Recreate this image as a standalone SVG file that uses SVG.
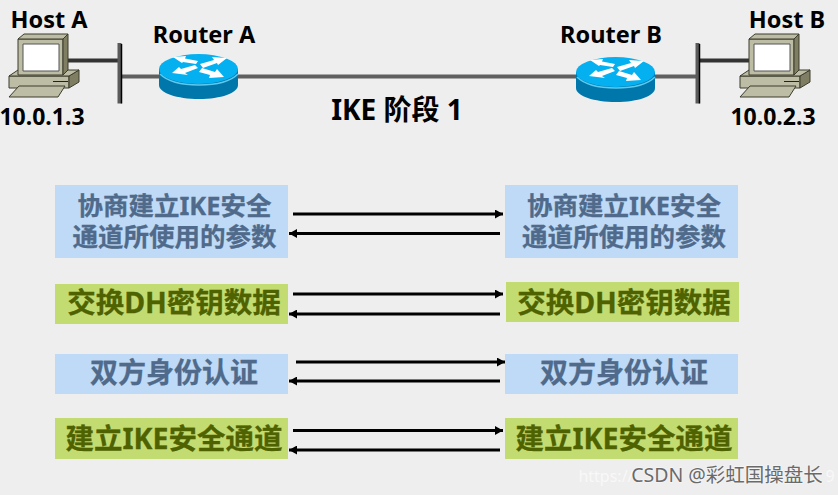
<svg xmlns="http://www.w3.org/2000/svg" width="838" height="495" viewBox="0 0 838 495">
<style>
text{font-family:"Noto Sans","Noto Sans CJK SC",sans-serif;font-weight:700;text-anchor:middle}
.lab{font-size:23.500px;fill:#000}
.ip{font-size:23px}
.b{font-size:25.500px;fill:#4f6a8a;stroke:#4f6a8a;stroke-width:.3}
.b2{font-size:28px}
.g{font-size:28.500px;fill:#4f6200;stroke:#4f6200;stroke-width:.3}
.blue{fill:#bfdaf6}
.green{fill:#c3dc72}
.ar{stroke:#000;stroke-width:3;fill:none}
.net{stroke:#5f5f5f;stroke-width:4;fill:none}
.m{fill:#bdbca4;stroke:#3c3c2c;stroke-width:1}
.d{fill:#7f7e62;stroke:#3c3c2c;stroke-width:1}
.wm{font-size:19.500px;font-weight:400;fill:#6a6a6a;stroke:#fff;stroke-width:1.500px;stroke-opacity:.5;paint-order:stroke}
.wf{font-size:16px;font-weight:400;fill:#f8f8f8}
</style>
<defs>
<marker id="ah" markerUnits="userSpaceOnUse" markerWidth="9" markerHeight="9" refX="8" refY="4.500" orient="auto"><path d="M0 0L8 4.500L0 9z" fill="#000"/></marker>
<g id="pc">
<path class="m" d="M9 76H69V88H9z"/>
<path class="d" d="M69 76L79 70V82L69 88z"/>
<path class="m" d="M9 76L18 70H79L69 76z"/>
<path d="M53 81.500H68" stroke="#222" stroke-width="1"/>
<path class="m" d="M9 97L19 86H65L58 97z"/>
<path class="m" d="M18 39H63V75H18z"/>
<path class="m" d="M18 39L24 34H68L63 39z"/>
<path class="d" d="M63 39L68 34V70L63 75z"/>
<path d="M23 44H59V71H23z" fill="#fff" stroke="#555" stroke-width="1"/>
</g>
<g id="rt">
<path d="M0 15V31C0 39 18 45 40 45S79 39 79 31V15z" fill="#0077aa"/>
<ellipse cx="39.500" cy="15" rx="39.500" ry="15" fill="#05b0f0"/>
<path d="M1 20C8 27 22 31 40 31S72 27 79 20" fill="none" stroke="#5ccaf0" stroke-width="1.500"/>
<path d="M14 3L27 2L26 4.500L39 7L37 10L24 8L23 9z M68 4L53 3L55 6L41 10L44 14L58 9L59 11z M13 19L20 13L22 15L36 11L39 14L26 19L29 21z M65 23L50 24L51 21L40 18L43 14L56 18L58 15z" fill="#fff"/>
</g>
</defs>
<rect width="838" height="495" fill="#eeeeee"/>
<g id="connectors">
<path class="net" d="M122 76.500H160M238 76.500H577M653 76.500H697"/>
<path d="M68 60.500H120M699 60.500H752" stroke="#333" stroke-width="4" fill="none"/>
<path d="M119.500 43V103.500M697.500 43V103.500" stroke="#5a5a5a" stroke-width="4" fill="none"/>
<path d="M121.500 44V103.500M699.500 44V103.500" stroke="#000" stroke-width="1.500" fill="none"/>
<path class="ar" marker-end="url(#ah)" d="M293 214H503"/>
<path class="ar" marker-end="url(#ah)" d="M500 233.500H289"/>
<path class="ar" marker-end="url(#ah)" d="M293 294H503"/>
<path class="ar" marker-end="url(#ah)" d="M500 314H289"/>
<path class="ar" marker-end="url(#ah)" d="M296 362H505"/>
<path class="ar" marker-end="url(#ah)" d="M500 381H289"/>
<path class="ar" marker-end="url(#ah)" d="M293 430.500H503"/>
<path class="ar" marker-end="url(#ah)" d="M500 450H289"/>
</g>
<g id="host-a"><use href="#pc"/><text class="lab" x="49" y="28">Host A</text><text class="lab ip" x="42" y="125">10.0.1.3</text></g>
<g id="router-a"><use href="#rt" x="159" y="54"/><text class="lab" x="204" y="43">Router A</text></g>
<g id="router-b"><use href="#rt" x="576" y="57"/><text class="lab" x="611" y="43">Router B</text></g>
<g id="host-b"><use href="#pc" x="731"/><text class="lab" x="787" y="28">Host B</text><text class="lab ip" x="773" y="125">10.0.2.3</text></g>
<g id="phase"><text class="lab" x="397" y="120" style="font-size:28px">IKE 阶段 1</text></g>
<g id="a1"><rect class="blue" x="55" y="185" width="233" height="73"/><text class="b" x="174.500" y="215">协商建立IKE安全</text><text class="b" x="174.500" y="246">通道所使用的参数</text></g>
<g id="b1"><rect class="blue" x="505" y="185" width="233" height="73"/><text class="b" x="624" y="215">协商建立IKE安全</text><text class="b" x="624" y="246">通道所使用的参数</text></g>
<g id="a2"><rect class="green" x="55" y="284" width="233" height="40"/><text class="g" x="174" y="313">交换DH密钥数据</text></g>
<g id="b2"><rect class="green" x="506" y="282" width="233" height="40"/><text class="g" x="624" y="313">交换DH密钥数据</text></g>
<g id="a3"><rect class="blue" x="55" y="354" width="233" height="40"/><text class="b b2" x="174" y="383">双方身份认证</text></g>
<g id="b3"><rect class="blue" x="505" y="354" width="233" height="40"/><text class="b b2" x="624" y="383">双方身份认证</text></g>
<g id="a4"><rect class="green" x="55" y="418" width="233" height="41"/><text class="g" x="174" y="449">建立IKE安全通道</text></g>
<g id="b4"><rect class="green" x="505" y="418" width="233" height="41"/><text class="g" x="624" y="449">建立IKE安全通道</text></g>
<g id="watermark"><text class="wf" x="606" y="482">https://</text><text class="wf" x="830" y="482">9</text><text class="wm" x="727" y="482">CSDN @彩虹国操盘长</text></g>
</svg>
